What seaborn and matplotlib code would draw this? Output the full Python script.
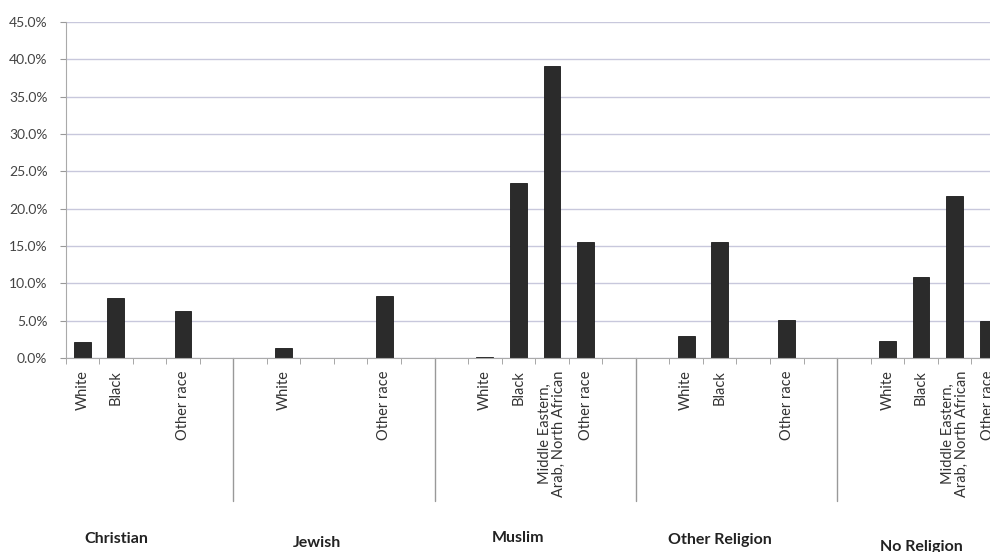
import matplotlib
matplotlib.use("Agg")
import matplotlib.pyplot as plt
import seaborn as sns
import pandas as pd
import numpy as np
from matplotlib.ticker import PercentFormatter, FixedLocator

religions = ["Christian", "Jewish", "Muslim", "Other Religion", "No Religion"]
races = ["White", "Black", "Middle Eastern,\nArab, North African", "Other race"]

christian = [2.2, 8.1, None, 6.3]
jewish = [1.3, None, None, 8.3]
muslim = [0.2, 23.4, 39.1, 15.6]
other_religion = [3.0, 15.5, None, 5.1]
no_religion = [2.3, 10.8, 21.7, 4.9]
series = [christian, jewish, muslim, other_religion, no_religion]

y_ticks = [0, 5, 10, 15, 20, 25, 30, 35, 40, 45]

# Build slot layout (Excel multi-level axis with blank slots)
slots = []
slot_labels = []
rows = []
group_bounds = []
black_slot = []
idx = 0
for g, (rel, vals) in enumerate(zip(religions, series)):
    group_bounds.append(idx)
    entries = ([] if g == 0 else [None]) + list(range(4)) + [None]
    for e in entries:
        sid = f"s{idx}"
        slots.append(sid)
        if e is None or vals[e] is None:
            slot_labels.append("")
        else:
            slot_labels.append(races[e])
            rows.append({"slot": sid, "value": vals[e], "religion": rel, "race": races[e]})
        if e == 1:
            black_slot.append(idx)
        idx += 1
n_slots = len(slots)
df = pd.DataFrame(rows)

sns.set_style("white")
plt.rcParams["font.family"] = ["Lato", "DejaVu Sans"]

fig = plt.figure(figsize=(9.9, 5.52), dpi=100)
slot_px = 33.55
left_px = 65.5
ax = fig.add_axes([left_px / 990, 1 - 358 / 552, n_slots * slot_px / 990, (358 - 22) / 552])

sns.barplot(data=df, x="slot", y="value", order=slots, color="#2b2b2b",
            width=0.5, errorbar=None, ax=ax, saturation=1, edgecolor="#1a1a1a", linewidth=0.6)

ax.set_xlim(-0.5, n_slots - 0.5)
ax.set_ylim(0, 45)
ax.set_yticks(y_ticks)
ax.yaxis.set_major_formatter(PercentFormatter(xmax=100, decimals=1))
ax.grid(axis="y", color="#c8c8dc", linewidth=1.0)
ax.set_axisbelow(True)

ax.set_xticks(range(n_slots))
ax.set_xticklabels(slot_labels, rotation=90, fontsize=10.5, color="#333333", va="top", ha="center",
                   linespacing=1.0)
ax.xaxis.set_minor_locator(FixedLocator(np.arange(-0.5, n_slots, 1.0)))
ax.tick_params(axis="x", which="major", length=0, pad=9)
ax.tick_params(axis="x", which="minor", length=4, color="#999999", direction="out", bottom=True)
ax.tick_params(axis="y", length=4, color="#999999", direction="out", left=True,
               labelsize=10, labelcolor="#444444", pad=9)

for s in ["top", "right"]:
    ax.spines[s].set_visible(False)
ax.spines["left"].set_color("#aaaaaa")
ax.spines["bottom"].set_color("#aaaaaa")

ax.set_xlabel("")
ax.set_ylabel("")

# group separators
for b in group_bounds[1:]:
    ax.axvline(b - 0.5, ymin=-0.425, ymax=0, clip_on=False, color="#999999", linewidth=1.0)

# group labels
label_y = [-0.540, -0.551, -0.536, -0.542, -0.562]
for rel, bs, ly in zip(religions, black_slot, label_y):
    ax.text(bs, ly, rel, transform=ax.get_xaxis_transform(), ha="center", va="center",
            fontsize=11.5, fontweight="bold", color="#222222")

fig.savefig("out.png", dpi=100, facecolor="white")
